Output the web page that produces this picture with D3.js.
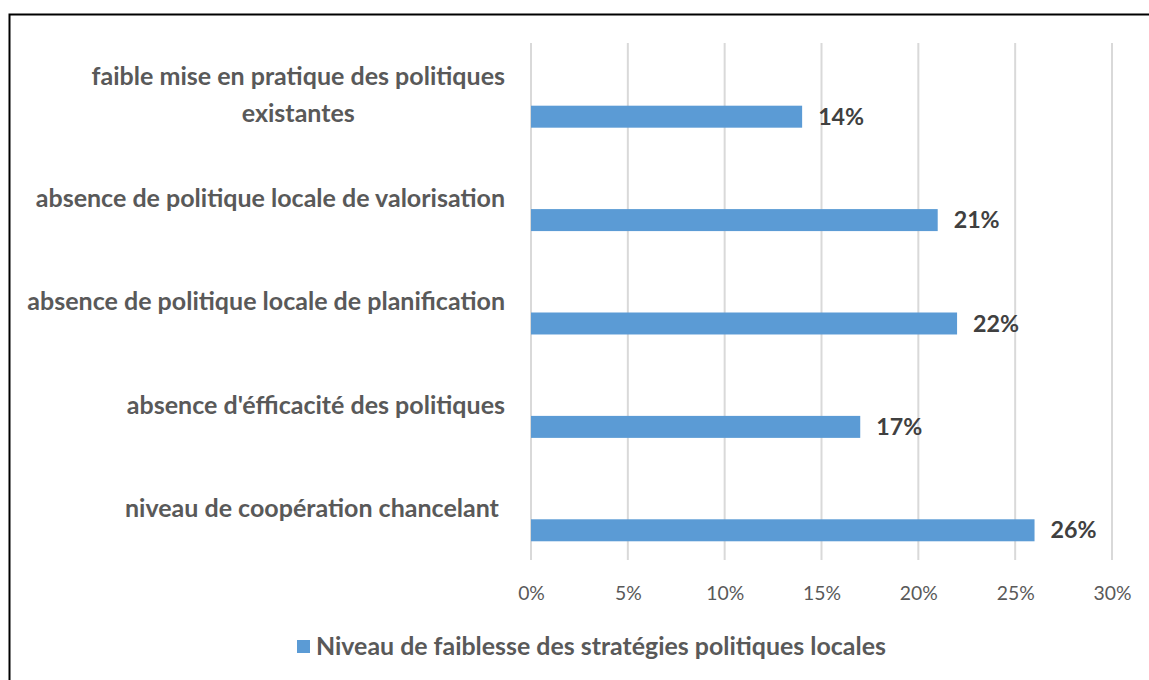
<!DOCTYPE html>
<html><head><meta charset="utf-8">
<script src="https://cdn.jsdelivr.net/npm/d3@7"></script>
<style>body{margin:0;background:#fff}svg{display:block}text{font-family:Lato,"Open Sans",sans-serif;white-space:pre}</style>
</head><body>
<script>
const categories = [
  "faible mise en pratique des politiques existantes",
  "absence de politique locale de valorisation",
  "absence de politique locale de planification",
  "absence d'éfficacité des politiques",
  "niveau de coopération chancelant "
];
const values = [0.14, 0.21, 0.22, 0.17, 0.26];
const seriesName = "Niveau de faiblesse des stratégies politiques locales";
const tickValues = [0, 0.05, 0.10, 0.15, 0.20, 0.25, 0.30];

const W = 1149, H = 680;
const svg = d3.select("body").append("svg").attr("width", W).attr("height", H);
svg.append("rect").attr("x", 0).attr("y", 0).attr("width", W).attr("height", H).attr("fill", "#fff");
svg.append("rect").attr("x", 9.5).attr("y", 14.5).attr("width", 1200).attr("height", 720)
  .attr("fill", "none").attr("stroke", "#000").attr("stroke-width", 2);

// font calibration helper
function fitSize(str, weight, target) {
  const t = svg.append("text").attr("font-size", 20).attr("font-weight", weight).text(str);
  const w = t.node().getComputedTextLength();
  t.remove();
  return 20 * target / w;
}
const catSize = fitSize("absence de politique locale de planification", "bold", 478);
const valSize = fitSize("14%", "bold", 46);
const tickSize = fitSize("10%", "normal", 38);
const legSize = fitSize(seriesName, "bold", 570);

const x = d3.scaleLinear().domain([0, 0.30]).range([531, 1112]);
const y = d3.scaleBand().domain(categories).range([43, 560]).paddingInner(0.362).paddingOuter(0.181);
const slot = d3.scaleBand().domain([0, 1, 2]).range([0, y.bandwidth()]);

// gridlines
svg.append("g").selectAll("line").data(tickValues).join("line")
  .attr("x1", d => x(d)).attr("x2", d => x(d)).attr("y1", 43).attr("y2", 560)
  .attr("stroke", "#d9d9d9").attr("stroke-width", 2);

// x axis labels
const xAxis = d3.axisBottom(x).tickValues(tickValues).tickFormat(d3.format(".0%")).tickSize(0).tickPadding(0);
const gx = svg.append("g").attr("transform", "translate(0,593)").call(xAxis);
gx.select(".domain").remove();
gx.selectAll("text").attr("font-size", tickSize).attr("fill", "#595959")
  .attr("font-family", "Lato,'Open Sans',sans-serif").attr("dy", "0.35em").attr("y", 0);

// bars
svg.append("g").selectAll("rect").data(categories).join("rect")
  .attr("x", x(0)).attr("y", (c) => y(c) + slot(2))
  .attr("width", (c, i) => x(values[i]) - x(0)).attr("height", slot.bandwidth())
  .attr("fill", "#5b9bd5");

// value labels
svg.append("g").selectAll("text").data(categories).join("text")
  .attr("x", (c, i) => x(values[i]) + 16).attr("y", c => y(c) + slot(2) + slot.bandwidth() / 2)
  .attr("dy", "0.35em").attr("font-size", valSize).attr("font-weight", "bold").attr("fill", "#404040")
  .text((c, i) => d3.format(".0%")(values[i]));

// category labels with wrapping
const labelRight = 505, maxW = 490, lineH = catSize * 1.5;
categories.forEach(c => {
  const g = svg.append("g");
  const words = c.split(" ").filter(w => w.length);
  const lines = [];
  let cur = "";
  const meas = svg.append("text").attr("font-size", catSize).attr("font-weight", "bold");
  words.forEach(w => {
    const test = cur ? cur + " " + w : w;
    meas.text(test);
    if (meas.node().getComputedTextLength() > maxW && cur) { lines.push(cur); cur = w; }
    else cur = test;
  });
  lines.push(cur + (c.endsWith(" ") ? " " : ""));
  let widest = 0;
  lines.forEach(l => { meas.text(l); widest = Math.max(widest, meas.node().getComputedTextLength()); });
  meas.remove();
  const cx = labelRight - widest / 2;
  const cy = y(c) + y.bandwidth() / 2;
  lines.forEach((l, k) => {
    g.append("text").attr("x", cx).attr("y", cy + (k - (lines.length - 1) / 2) * lineH)
      .attr("dy", "0.35em").attr("text-anchor", "middle")
      .attr("font-size", catSize).attr("font-weight", "bold").attr("fill", "#595959").text(l);
  });
});

// legend
const leg = svg.append("g");
leg.append("rect").attr("x", 297).attr("y", 640).attr("width", 13).attr("height", 13).attr("fill", "#5b9bd5");
leg.append("text").attr("x", 316).attr("y", 646.5).attr("dy", "0.35em")
  .attr("font-size", legSize).attr("font-weight", "bold").attr("fill", "#595959").text(seriesName);
</script>
</body></html>
